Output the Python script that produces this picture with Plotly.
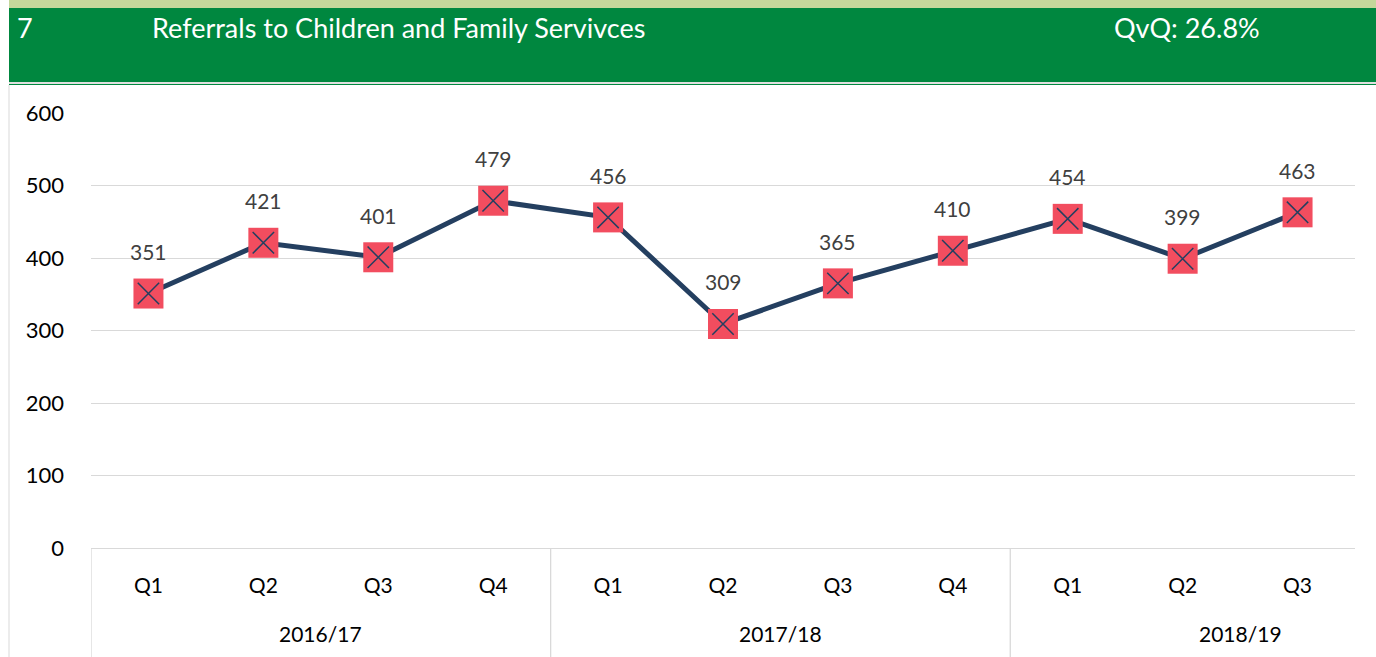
import plotly.graph_objects as go

quarters = ["Q1", "Q2", "Q3", "Q4", "Q1", "Q2", "Q3", "Q4", "Q1", "Q2", "Q3"]
years = ["2016/17", "2017/18", "2018/19"]
values = [351, 421, 401, 479, 456, 309, 365, 410, 454, 399, 463]
yticks = [0, 100, 200, 300, 400, 500, 600]
header_num = "7"
header_title = "Referrals to Children and Family Servivces"
header_kpi = "QvQ: 26.8%"

W, H = 1376, 657
ML, MR, MT, MB = 91, 21, 113, 109
PH = H - MT - MB
PW = W - ML - MR


def py(p):
    return (H - MB - p) / PH


def px(p):
    return (p - ML) / PW


FONT = "Lato"
NAVY = "#243F60"
xs = list(range(len(values)))

fig = go.Figure()
fig.add_trace(go.Scatter(x=xs, y=values, mode="lines",
                         line=dict(color=NAVY, width=5), hoverinfo="skip"))
fig.add_trace(go.Scatter(x=xs, y=values, mode="markers",
                         marker=dict(symbol="square", size=30, color="#F24D5F",
                                     line=dict(width=0))))
fig.add_trace(go.Scatter(x=xs, y=values, mode="markers",
                         marker=dict(symbol="x-thin-open", size=21.4, color=NAVY,
                                     line=dict(color=NAVY, width=1.5))))

annotations = []
for x, v in zip(xs, values):
    annotations.append(dict(x=x, y=v, xref="x", yref="y", text=str(v), showarrow=False,
                            yshift=42, font=dict(family=FONT, size=21, color="#404040")))

for i, yr in enumerate(years):
    annotations.append(dict(x=4 * i + 1.5, y=py(633), xref="x", yref="paper", text=yr,
                            showarrow=False, yanchor="middle",
                            font=dict(family=FONT, size=21, color="#000000")))

# header texts
annotations.append(dict(x=px(15), y=py(28), xref="paper", yref="paper", text=header_num,
                        showarrow=False, xanchor="left", yanchor="middle",
                        font=dict(family=FONT, size=27, color="white")))
annotations.append(dict(x=px(150), y=py(28), xref="paper", yref="paper", text=header_title,
                        showarrow=False, xanchor="left", yanchor="middle",
                        font=dict(family=FONT, size=27, color="white")))
annotations.append(dict(x=px(1112), y=py(28), xref="paper", yref="paper", text=header_kpi,
                        showarrow=False, xanchor="left", yanchor="middle",
                        font=dict(family=FONT, size=27, color="white")))

shapes = [
    dict(type="rect", xref="paper", yref="paper", x0=px(9), x1=px(W + 5), y0=py(8), y1=py(-5),
         fillcolor="#C4D79B", line=dict(width=0), layer="below"),
    dict(type="rect", xref="paper", yref="paper", x0=px(9), x1=px(W + 5), y0=py(82), y1=py(8),
         fillcolor="#00873F", line=dict(width=0), layer="below"),
    dict(type="line", xref="paper", yref="paper", x0=px(9), x1=px(W + 5), y0=py(83), y1=py(83),
         line=dict(color="#BFBFBF", width=1)),
    dict(type="line", xref="paper", yref="paper", x0=px(9), x1=px(W + 5), y0=py(84.5), y1=py(84.5),
         line=dict(color="#00873F", width=1)),
    dict(type="line", xref="paper", yref="paper", x0=px(9), x1=px(9), y0=py(85), y1=py(H + 5),
         line=dict(color="#D9D9D9", width=1)),
]
for b in [-0.5, 3.5, 7.5]:
    shapes.append(dict(type="line", xref="x", yref="paper", x0=b, x1=b, y0=0, y1=py(H + 5),
                       line=dict(color="#D9D9D9", width=1.3)))

fig.update_layout(
    width=W, height=H,
    margin=dict(l=ML, r=MR, t=MT, b=MB, pad=0),
    paper_bgcolor="white", plot_bgcolor="white",
    showlegend=False,
    annotations=annotations,
    shapes=shapes,
    xaxis=dict(range=[-0.5, len(values) - 0.5], tickvals=xs, ticktext=quarters,
               showgrid=False, zeroline=False, showline=True, linecolor="#D9D9D9", linewidth=1.3,
               ticks="", ticklabelstandoff=19, fixedrange=True,
               tickfont=dict(family=FONT, size=21, color="#000000")),
    yaxis=dict(range=[0, 600], tickvals=yticks, showgrid=True, gridcolor="#D9D9D9", gridwidth=1.3,
               zeroline=False, showline=False, ticks="", ticklabelstandoff=26, fixedrange=True,
               tickfont=dict(family=FONT, size=22, color="#000000")),
)

fig.write_html("out.html", config={"displayModeBar": False},
               post_script="document.body.style.margin='0';document.body.style.overflow='hidden';")
